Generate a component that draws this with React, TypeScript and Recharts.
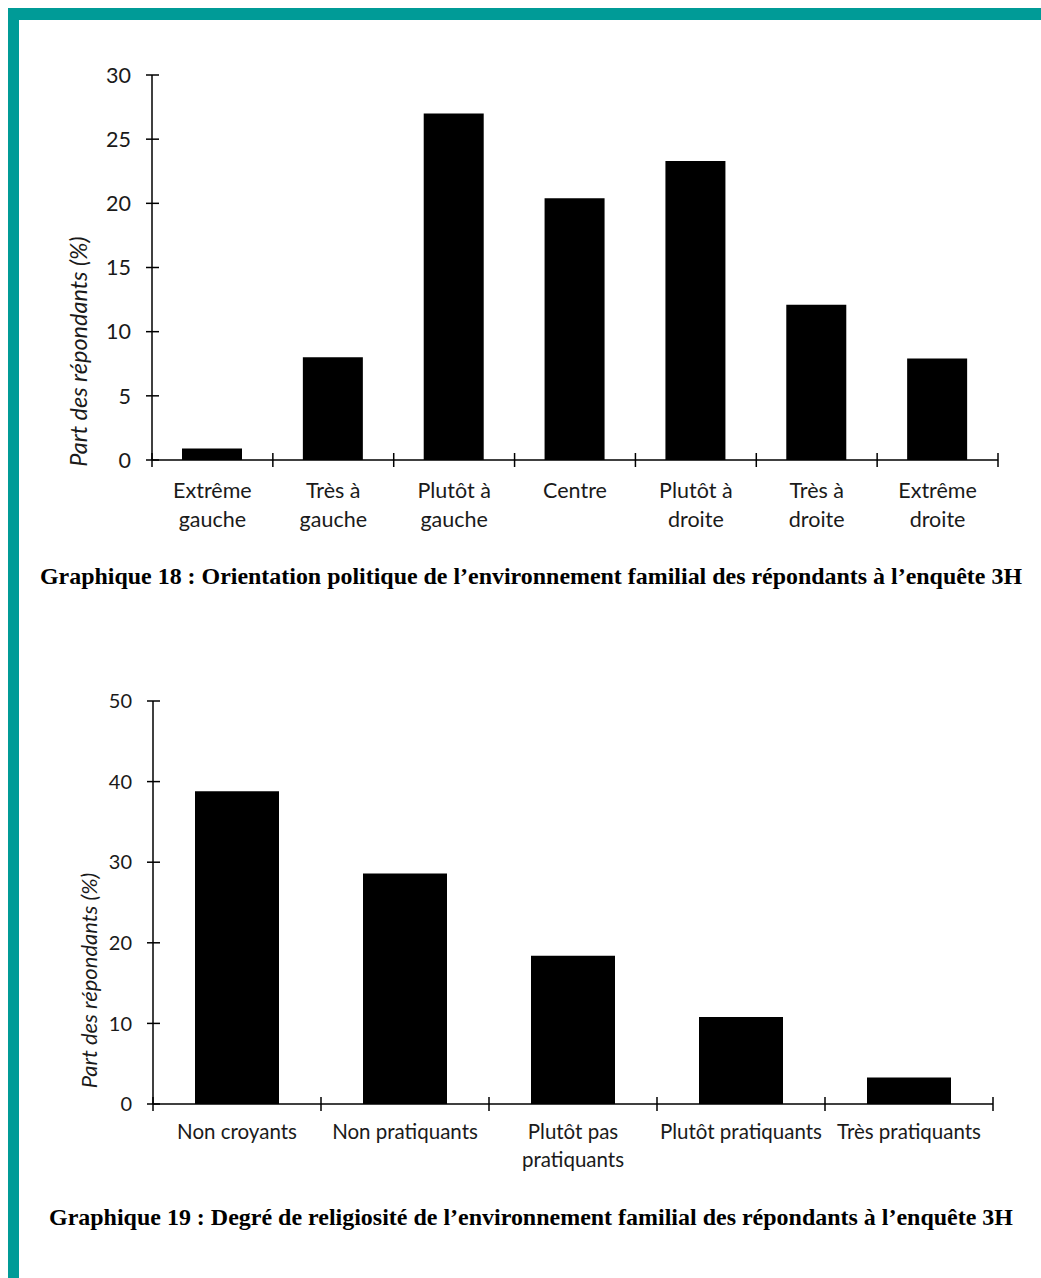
import React from "react";
import { BarChart, Bar, XAxis, YAxis } from "recharts";

// Graphique 18
const politicsCategories = [
  "Extrême\ngauche",
  "Très à\ngauche",
  "Plutôt à\ngauche",
  "Centre",
  "Plutôt à\ndroite",
  "Très à\ndroite",
  "Extrême\ndroite",
];
const politicsValues = [0.9, 8.0, 27.0, 20.4, 23.3, 12.1, 7.9];
const politicsTicks = [0, 5, 10, 15, 20, 25, 30];

// Graphique 19
const religionCategories = [
  "Non croyants",
  "Non pratiquants",
  "Plutôt pas\npratiquants",
  "Plutôt pratiquants",
  "Très pratiquants",
];
const religionValues = [38.8, 28.6, 18.4, 10.8, 3.3];
const religionTicks = [0, 10, 20, 30, 40, 50];

const yLabel = "Part des répondants (%)";
const caption18 =
  "Graphique 18 : Orientation politique de l’environnement familial des répondants à l’enquête 3H";
const caption19 =
  "Graphique 19 : Degré de religiosité de l’environnement familial des répondants à l’enquête 3H";

const FONT = "Lato, 'Open Sans', sans-serif";
const TEAL = "#009b97";
const W = 1041;

function makeXTick(band: number, count: number, fontSize: number, firstLine: number, lineGap: number) {
  return (props: any) => {
    const { x, y, payload, index } = props;
    const lines = String(payload.value).split("\n");
    return (
      <g>
        <line x1={x - band / 2} x2={x - band / 2} y1={y - 7} y2={y + 7} stroke="#000" strokeWidth={1.5} />
        {index === count - 1 && (
          <line x1={x + band / 2} x2={x + band / 2} y1={y - 7} y2={y + 7} stroke="#000" strokeWidth={1.5} />
        )}
        <text x={x} y={y + firstLine} textAnchor="middle" fontSize={fontSize} fontFamily={FONT} fill="#1a1a1a">
          {lines.map((l, i) => (
            <tspan key={i} x={x} dy={i === 0 ? 0 : lineGap}>
              {l}
            </tspan>
          ))}
        </text>
      </g>
    );
  };
}

function makeYTick(fontSize: number) {
  return (props: any) => {
    const { x, y, payload } = props;
    return (
      <g>
        <line x1={x - 6} x2={x + 7} y1={y} y2={y} stroke="#000" strokeWidth={1.5} />
        <text x={x - 21} y={y} dy="0.36em" textAnchor="end" fontSize={fontSize} fontFamily={FONT} fill="#1a1a1a">
          {payload.value}
        </text>
      </g>
    );
  };
}

function makeYLabel(fontSize: number, cx: number, shift: number) {
  return (props: any) => {
    const vb = props.viewBox;
    const cy = vb.y + vb.height / 2 + shift;
    return (
      <text
        x={cx}
        y={cy}
        transform={`rotate(-90, ${cx}, ${cy})`}
        textAnchor="middle"
        dominantBaseline="central"
        fontSize={fontSize}
        fontStyle="italic"
        fontFamily={FONT}
        fill="#1a1a1a"
      >
        {yLabel}
      </text>
    );
  };
}

function Caption({ text, top, width }: { text: string; top: number; width: number }) {
  return (
    <svg width={W} height={34} style={{ position: "absolute", left: 0, top }}>
      <text
        x={531}
        y={24}
        textAnchor="middle"
        textLength={width}
        lengthAdjust="spacingAndGlyphs"
        fontFamily="'Liberation Serif', 'Times New Roman', serif"
        fontWeight="bold"
        fontSize={24}
        fill="#000"
      >
        {text}
      </text>
    </svg>
  );
}

export default function App() {
  const politicsData = politicsCategories.map((c, i) => ({ name: c, value: politicsValues[i] }));
  const religionData = religionCategories.map((c, i) => ({ name: c, value: religionValues[i] }));

  const plot1W = 998 - 152;
  const plot2W = 993 - 153;

  return (
    <div style={{ position: "relative", width: W, height: 1278, background: "#fff", overflow: "hidden" }}>
      <style>{"body{margin:0}"}</style>
      <div style={{ position: "absolute", left: 8, top: 8, right: 0, height: 12, background: TEAL }} />
      <div style={{ position: "absolute", left: 8, top: 8, width: 11, bottom: 0, background: TEAL }} />

      <div style={{ position: "absolute", left: 0, top: 0 }}>
        <BarChart
          width={W}
          height={545}
          data={politicsData}
          margin={{ top: 75, right: W - 998, bottom: 15, left: 92 }}
        >
          <XAxis
            dataKey="name"
            interval={0}
            tickSize={0}
            tickMargin={0}
            height={70}
            stroke="#000"
            strokeWidth={1.5}
            tick={makeXTick(plot1W / politicsCategories.length, politicsCategories.length, 21.5, 38, 29)}
          />
          <YAxis
            width={60}
            domain={[0, 30]}
            ticks={politicsTicks}
            tickSize={0}
            tickMargin={0}
            stroke="#000"
            strokeWidth={1.5}
            tick={makeYTick(21.5)}
            label={{ content: makeYLabel(23.5, 78, 84) }}
          />
          <Bar dataKey="value" fill="#000" barSize={60} isAnimationActive={false} />
        </BarChart>
      </div>

      <Caption text={caption18} top={560} width={982} />

      <div style={{ position: "absolute", left: 0, top: 620 }}>
        <BarChart
          width={W}
          height={560}
          data={religionData}
          margin={{ top: 81, right: W - 993, bottom: 6, left: 93 }}
        >
          <XAxis
            dataKey="name"
            interval={0}
            tickSize={0}
            tickMargin={0}
            height={70}
            stroke="#000"
            strokeWidth={1.5}
            tick={makeXTick(plot2W / religionCategories.length, religionCategories.length, 20.5, 35, 28)}
          />
          <YAxis
            width={60}
            domain={[0, 50]}
            ticks={religionTicks}
            tickSize={0}
            tickMargin={0}
            stroke="#000"
            strokeWidth={1.5}
            tick={makeYTick(20)}
            label={{ content: makeYLabel(22, 88, 78) }}
          />
          <Bar dataKey="value" fill="#000" barSize={84} isAnimationActive={false} />
        </BarChart>
      </div>

      <Caption text={caption19} top={1201} width={964} />
    </div>
  );
}
